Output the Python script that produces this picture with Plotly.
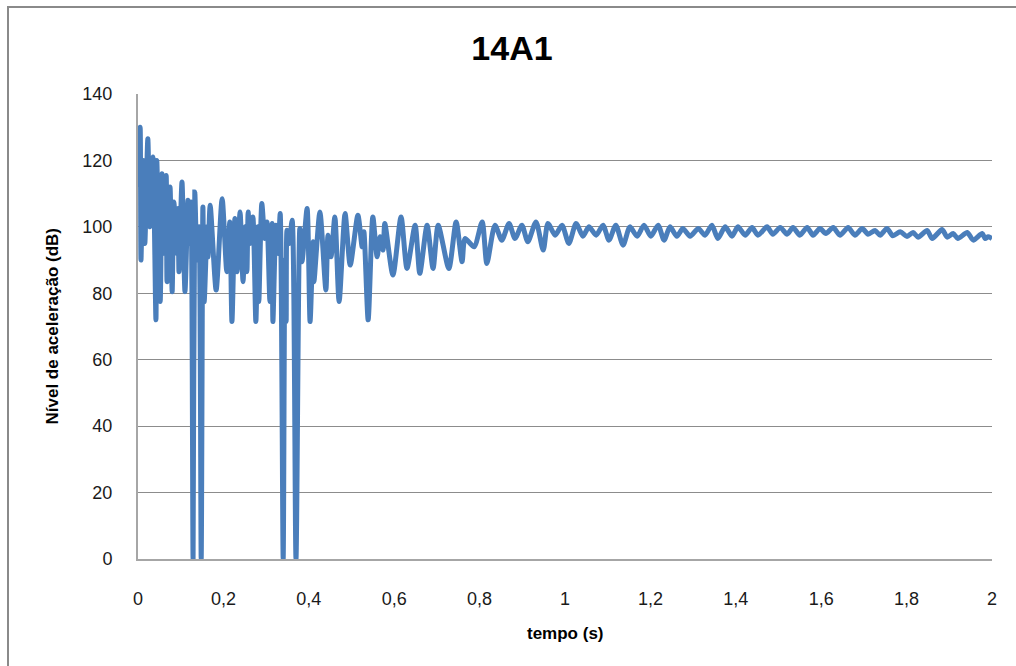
import plotly.graph_objects as go

title_text = "14A1"
x_title = "tempo (s)"
y_title = "Nível de aceleração (dB)"

x_tickvals = [0, 0.2, 0.4, 0.6, 0.8, 1.0, 1.2, 1.4, 1.6, 1.8, 2.0]
x_ticktext = ["0", "0,2", "0,4", "0,6", "0,8", "1", "1,2", "1,4", "1,6", "1,8", "2"]
y_tickvals = [0, 20, 40, 60, 80, 100, 120, 140]

# time (s) and level (dB) (peaks and troughs)
tempo = [
    0.000, 0.005, 0.007, 0.012, 0.016, 0.023, 0.028, 0.035, 0.042, 0.044,
    0.052, 0.056, 0.059, 0.066, 0.068, 0.075, 0.080, 0.084, 0.091, 0.094,
    0.096, 0.103, 0.110, 0.117, 0.119, 0.124, 0.129, 0.133, 0.138, 0.143,
    0.148, 0.152, 0.155, 0.162, 0.164, 0.169, 0.183, 0.197, 0.208, 0.215,
    0.220, 0.227, 0.232, 0.239, 0.246, 0.251, 0.255, 0.258, 0.262, 0.269,
    0.276, 0.281, 0.283, 0.290, 0.297, 0.302, 0.309, 0.314, 0.316, 0.323,
    0.328, 0.333, 0.340, 0.344, 0.347, 0.349, 0.354, 0.361, 0.370, 0.379,
    0.384, 0.396, 0.403, 0.410, 0.412, 0.426, 0.440, 0.445, 0.452, 0.461,
    0.471, 0.485, 0.497, 0.515, 0.525, 0.529, 0.539, 0.550, 0.560, 0.567,
    0.574, 0.578, 0.597, 0.616, 0.630, 0.649, 0.660, 0.677, 0.691, 0.703,
    0.728, 0.745, 0.759, 0.766, 0.787, 0.806, 0.817, 0.836, 0.852, 0.869,
    0.883, 0.899, 0.913, 0.932, 0.949, 0.960, 0.977, 0.993, 1.009, 1.026,
    1.042, 1.056, 1.073, 1.089, 1.103, 1.119, 1.136, 1.152, 1.169, 1.185,
    1.201, 1.218, 1.232, 1.246, 1.262, 1.276, 1.293, 1.312, 1.328, 1.344,
    1.358, 1.375, 1.391, 1.405, 1.422, 1.438, 1.452, 1.473, 1.487, 1.504,
    1.520, 1.534, 1.550, 1.567, 1.581, 1.597, 1.611, 1.628, 1.644, 1.663,
    1.679, 1.696, 1.710, 1.726, 1.738, 1.754, 1.768, 1.785, 1.801, 1.815,
    1.827, 1.848, 1.860, 1.883, 1.895, 1.909, 1.920, 1.942, 1.956, 1.977,
    1.984, 1.991, 2.000,
]
nivel = [
    112, 130, 90, 120, 95, 126.5, 100, 121, 72, 120,
    77.5, 116, 92, 115.5, 83.5, 112, 80.5, 107.5, 92, 105.5,
    86.5, 113.5, 80.5, 108, 95, 107.5, 0, 110.5, 90, 100,
    0, 106, 77.5, 100, 91, 106.5, 81, 108.5, 86.5, 101.5,
    71.5, 102.5, 86.5, 104.5, 83.5, 100, 86.5, 104.5, 95, 103,
    71.5, 100, 77.5, 107, 96.5, 101.5, 77.5, 101, 71.5, 100.5,
    92, 104, 0, 90, 71.5, 99, 95, 102, 0, 99.5,
    89.5, 105.5, 71.5, 95.5, 83.5, 104.5, 81, 97.5, 91, 103,
    77.5, 104, 88.5, 103.5, 94, 98.5, 72, 103, 91, 97,
    93, 101, 85.5, 103, 87.5, 100.5, 86, 100.5, 87.5, 100.5,
    87.5, 101.5, 89.5, 96.5, 94, 101.5, 89, 100.5, 96, 101,
    96.5, 100.5, 95.5, 101.5, 93, 101, 97.5, 100.5, 95, 101,
    97.2, 100, 97.5, 100.5, 96, 100.5, 94.5, 100, 97.2, 100.5,
    97.2, 100.5, 96, 100, 97.2, 99.5, 97.2, 99.5, 97.5, 100.5,
    96.5, 100, 97.2, 100, 97.5, 99.8, 97.5, 100, 97.8, 99.8,
    97.8, 99.8, 97.5, 99.8, 97.5, 99.5, 98, 99.8, 97.5, 99.8,
    97.5, 99.5, 97.8, 98.9, 97.5, 99.5, 97.3, 98.5, 97.1, 98.3,
    96.9, 98.9, 96.5, 99.2, 96.9, 98, 96.5, 98.3, 96, 98,
    96.5, 97, 96.5,
]

FONT = "Liberation Sans, Arial, sans-serif"

fig = go.Figure()
fig.add_trace(go.Scatter(
    x=tempo, y=nivel, mode="lines",
    line=dict(color="#4A7EBB", width=5, shape="spline", smoothing=0.7),
    showlegend=False, hoverinfo="x+y",
))

fig.update_layout(
    width=1016, height=666,
    margin=dict(l=138, r=24, t=94, b=107),
    paper_bgcolor="white", plot_bgcolor="white",
    font=dict(family=FONT, size=18, color="#1a1a1a"),
    title=dict(text="<b>" + title_text + "</b>", x=(512) / 1016, xanchor="center",
               y=1 - 48 / 666, yanchor="middle", yref="container",
               font=dict(family=FONT, size=34, color="#000000")),
    xaxis=dict(range=[0, 2], tickvals=x_tickvals, ticktext=x_ticktext,
               showgrid=False, zeroline=False, showline=True,
               linecolor="#A6A6A6", linewidth=2, ticks="",
               ticklabelstandoff=22, tickfont=dict(size=18, color="#1a1a1a")),
    yaxis=dict(range=[0, 140], tickvals=y_tickvals,
               showgrid=True, gridcolor="#8C8C8C", gridwidth=1,
               zeroline=False, showline=True, linecolor="#A6A6A6", linewidth=2,
               ticks="", ticklabelstandoff=20, tickfont=dict(size=18, color="#1a1a1a")),
    annotations=[
        dict(text="<b>" + x_title + "</b>", xref="paper", yref="paper",
             x=0.5, y=(559 - 633) / 465, xanchor="center", yanchor="middle",
             showarrow=False, font=dict(family=FONT, size=17, color="#000000")),
        dict(text="<b>" + y_title + "</b>", xref="paper", yref="paper",
             x=(52 - 138) / 854, y=0.5, xanchor="center", yanchor="middle",
             textangle=-90, showarrow=False,
             font=dict(family=FONT, size=17, color="#000000")),
    ],
    shapes=[
        dict(type="rect", xref="paper", yref="paper",
             x0=(8 - 138) / 854, x1=(1030 - 138) / 854,
             y0=(559 - 680) / 465, y1=(559 - 7) / 465,
             line=dict(color="#8A8A8A", width=2), fillcolor="rgba(0,0,0,0)",
             layer="below"),
    ],
)

fig.write_html("out.html")
